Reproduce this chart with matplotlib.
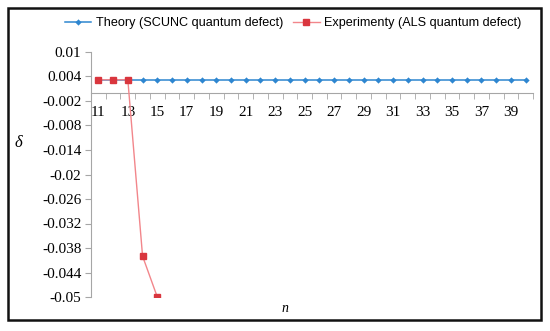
import matplotlib
matplotlib.use("Agg")
import matplotlib.pyplot as plt
from matplotlib.patches import Rectangle
from matplotlib.ticker import FixedLocator
import numpy as np

# data
n_theory = list(range(11, 41))
delta_theory = [0.0032] * len(n_theory)
n_exp = [11, 12, 13, 14, 15]
delta_exp = [0.0032, 0.0032, 0.0032, -0.040, -0.050]
y_ticks = [0.01, 0.004, -0.002, -0.008, -0.014, -0.02, -0.026, -0.032, -0.038, -0.044, -0.05]
x_labels = list(range(11, 40, 2))

BLUE = "#2E86D0"
RED = "#D9363E"
RED_LINE = "#F2868B"
GRAY = "#A6A6A6"

fig = plt.figure(figsize=(5.5, 3.31), dpi=100)
ax = fig.add_axes([91 / 550, 34 / 331, 442 / 550, 245 / 331])

ax.plot(n_theory, delta_theory, color=BLUE, linewidth=1.1, marker="D", markersize=3.2,
        markeredgewidth=0, label="Theory (SCUNC quantum defect)", zorder=3)
ax.plot(n_exp, delta_exp, color=RED_LINE, linewidth=1.0, marker="s", markersize=4.5,
        markerfacecolor=RED, markeredgecolor=RED, label="Experimenty (ALS quantum defect)", zorder=4)

ax.set_xlim(10.5, 40.5)
ax.set_ylim(-0.05, 0.01)

for side in ("top", "right"):
    ax.spines[side].set_visible(False)
ax.spines["left"].set_color(GRAY)
ax.spines["bottom"].set_color(GRAY)
ax.spines["bottom"].set_position(("data", 0))

ax.set_yticks(y_ticks)
ax.set_yticklabels([f"{v:g}" for v in y_ticks], family="Liberation Serif", fontsize=11)
ax.tick_params(axis="y", direction="out", length=4, color=GRAY, pad=3)

ax.xaxis.set_major_locator(FixedLocator(x_labels))
ax.set_xticklabels([str(v) for v in x_labels], family="Liberation Serif", fontsize=11)
ax.xaxis.set_minor_locator(FixedLocator(np.arange(10.5, 41, 1)))
ax.tick_params(axis="x", which="major", length=0, pad=9.5)
ax.tick_params(axis="x", which="minor", direction="out", length=4, color=GRAY)

fig.text(18 / 550, 1 - 143 / 331, "δ", fontsize=12, family="Liberation Serif",
         style="italic", ha="center", va="center")
fig.text(285 / 550, 1 - 308 / 331, "n", fontsize=10, family="Liberation Serif",
         style="italic", ha="center", va="center")

fig.legend(loc="center", bbox_to_anchor=(293 / 550, 1 - 23 / 331), ncol=2, frameon=False,
           prop={"family": "Liberation Sans", "size": 9.1}, handlelength=2.1,
           columnspacing=0.8, handletextpad=0.35)

fig.patches.append(Rectangle((8 / 550, 11 / 331), 533 / 550, 312 / 331, transform=fig.transFigure,
                             fill=False, edgecolor="#111111", linewidth=1.8))

fig.savefig("out.png", dpi=100)
